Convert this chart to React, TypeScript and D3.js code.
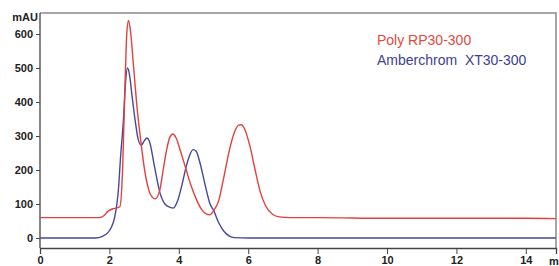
import React, { useEffect, useRef } from 'react';
import * as d3 from 'd3';

// Retention time (min) / absorbance (mAU)
const polyTimes = [0, 1.0, 1.7, 1.85, 1.95, 2.1, 2.2, 2.3, 2.38, 2.45, 2.5, 2.55, 2.6, 2.7, 2.8, 2.9, 3.0, 3.1, 3.2, 3.32, 3.45, 3.55, 3.65, 3.75, 3.83, 3.92, 4.05, 4.2, 4.35, 4.5, 4.65, 4.8, 4.9, 5.0, 5.15, 5.3, 5.45, 5.6, 5.72, 5.8, 5.9, 6.05, 6.2, 6.35, 6.5, 6.7, 6.9, 7.2, 8, 10, 12, 14, 14.9];
const polyValues = [60, 60, 60, 66, 78, 86, 88, 92, 200, 450, 600, 640, 615, 500, 380, 290, 210, 155, 125, 115, 140, 200, 260, 298, 306, 295, 255, 205, 155, 115, 85, 70, 68, 80, 110, 180, 255, 310, 332, 333, 320, 270, 200, 135, 95, 70, 62, 60, 60, 58, 58, 58, 57];

const amberTimes = [0, 1.0, 1.6, 1.8, 1.95, 2.05, 2.15, 2.25, 2.33, 2.4, 2.46, 2.52, 2.58, 2.65, 2.75, 2.83, 2.92, 3.0, 3.08, 3.15, 3.3, 3.46, 3.6, 3.75, 3.84, 3.95, 4.1, 4.2, 4.3, 4.41, 4.5, 4.6, 4.75, 4.9, 5.0, 5.15, 5.3, 5.45, 5.6, 6, 10, 14.9];
const amberValues = [0, 0, 0, 5, 15, 30, 60, 130, 250, 340, 450, 500, 480, 420, 340, 290, 273, 285, 294, 285, 210, 132, 100, 90, 88, 105, 160, 205, 240, 260, 255, 225, 160, 100, 82, 45, 20, 6, 1, 0, 0, 0];

const xTickLabels = [0, 2, 4, 6, 8, 10, 12, 14];
const yTickLabels = [0, 100, 200, 300, 400, 500, 600];

const seriesNames = ['Poly RP30-300', 'Amberchrom  XT30-300'];
const seriesColors = ['#e2403e', '#46479a'];

const Chromatogram = ({ width = 559, height = 266 }) => {
  const svgRef = useRef<SVGSVGElement>(null);

  useEffect(() => {
    const svg = d3.select(svgRef.current);
    svg.selectAll('*').remove();

    const left = 40, right = 556, top = 13, bottom = 248;

    const x = d3.scaleLinear().domain([0, 14.87]).range([left, right]);
    const y = d3.scaleLinear().domain([0, 600]).range([238, 34]);

    svg.append('defs').append('clipPath').attr('id', 'plot-clip')
      .append('rect')
      .attr('x', left).attr('y', top)
      .attr('width', right - left).attr('height', bottom - top);

    // frame (top/right)
    svg.append('path')
      .attr('d', `M${left},${top}H${right}V${bottom}`)
      .attr('fill', 'none')
      .attr('stroke', '#8a8a8a')
      .attr('stroke-width', 1.5);

    const font = 'Arial, "Liberation Sans", sans-serif';

    // x axis
    const xMinor = d3.range(0, 15, 0.5);
    const xAxis = svg.append('g').attr('transform', `translate(0,${bottom})`);
    xAxis.call(
      d3.axisBottom(x).tickValues(xMinor).tickSize(3).tickFormat(() => '')
    );
    xAxis.call(
      d3.axisBottom(x).tickValues(xTickLabels).tickSize(6).tickPadding(2).tickFormat(d3.format('d'))
    );
    xAxis.selectAll('.domain').attr('stroke', '#444').attr('stroke-width', 1.3);
    xAxis.selectAll('line').attr('stroke', '#444');
    xAxis.selectAll('text')
      .attr('font-family', font)
      .attr('font-size', 11)
      .attr('font-weight', 'bold')
      .attr('fill', '#222');
    svg.append('text')
      .attr('x', 549).attr('y', 265)
      .attr('font-family', font).attr('font-size', 11).attr('font-weight', 'bold')
      .attr('fill', '#222')
      .text('m');

    // y axis
    const yMinor = d3.range(-20, 661, 20);
    const yAxis = svg.append('g').attr('transform', `translate(${left},0)`);
    yAxis.call(
      d3.axisLeft(y).tickValues(yMinor).tickSize(2).tickFormat(() => '')
    );
    yAxis.call(
      d3.axisLeft(y).tickValues(yTickLabels).tickSize(4).tickPadding(3).tickFormat(d3.format('d'))
    );
    yAxis.selectAll('.domain').remove();
    yAxis.append('line')
      .attr('y1', top).attr('y2', bottom)
      .attr('stroke', '#444').attr('stroke-width', 1.3);
    yAxis.selectAll('line').attr('stroke', '#444');
    yAxis.selectAll('text')
      .attr('font-family', font)
      .attr('font-size', 11)
      .attr('font-weight', 'bold')
      .attr('fill', '#222');
    svg.append('text')
      .attr('x', 38).attr('y', 21)
      .attr('text-anchor', 'end')
      .attr('font-family', font).attr('font-size', 11).attr('font-weight', 'bold')
      .attr('fill', '#222')
      .text('mAU');

    // traces
    const line = d3.line<[number, number]>()
      .x(d => x(d[0]))
      .y(d => y(d[1]))
      .curve(d3.curveMonotoneX);

    const traces = [
      d3.zip(polyTimes, polyValues) as [number, number][],
      d3.zip(amberTimes, amberValues) as [number, number][],
    ];

    const plot = svg.append('g').attr('clip-path', 'url(#plot-clip)');
    // blue drawn first so red sits on top where they overlap
    [1, 0].forEach(i => {
      plot.append('path')
        .datum(traces[i])
        .attr('d', line)
        .attr('fill', 'none')
        .attr('stroke', seriesColors[i])
        .attr('stroke-width', 1.4);
    });

    // legend
    seriesNames.forEach((name, i) => {
      svg.append('text')
        .attr('x', 377)
        .attr('y', 45 + i * 20)
        .attr('font-family', font)
        .attr('font-size', 14)
        .attr('fill', i === 0 ? '#e04b3e' : '#3d4190')
        .attr('xml:space', 'preserve')
        .style('white-space', 'pre')
        .text(name);
    });
  }, [width, height]);

  return (
    <svg
      ref={svgRef}
      width={width}
      height={height}
      style={{ position: 'absolute', left: 0, top: 0, background: '#fff' }}
    ></svg>
  );
};

export default function App() {
  return <Chromatogram />;
}
